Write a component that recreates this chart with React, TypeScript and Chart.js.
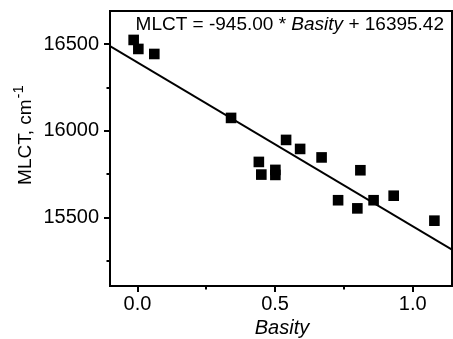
import React, { useEffect, useRef } from "react";
import { Chart, registerables } from "chart.js";

Chart.register(...registerables);

// ---- data ----
const basity = [-0.014, 0.003, 0.061, 0.34, 0.441, 0.45, 0.501, 0.501, 0.54, 0.591, 0.669, 0.729, 0.799, 0.81, 0.858, 0.931, 1.079];
const mlct = [16525, 16473, 16444, 16075, 15821, 15748, 15775, 15746, 15948, 15896, 15847, 15600, 15553, 15773, 15600, 15626, 15482];
const fitX = [-0.1, 1.143];
const fitY = [16490, 15315];

const xMajorTicks = [0, 0.5, 1.0];
const xMinorTicks = [0.25, 0.75];
const yMajorTicks = [15500, 16000, 16500];
const yMinorTicks = [15250, 15750, 16250];

const equationParts = ["MLCT = -945.00 * ", "Basity", " + 16395.42"];
const xTitle = "Basity";
const yTitle = "MLCT, cm";
const yTitleSup = "-1";

const FONT = "'Liberation Sans', Arial, sans-serif";

const framePlugin = {
  id: "framePlugin",
  afterDraw(chart: any) {
    const { ctx, chartArea: a, scales } = chart;
    const xs = scales.x;
    const ys = scales.y;
    ctx.save();
    ctx.strokeStyle = "#000";
    ctx.fillStyle = "#000";
    ctx.lineWidth = 2;
    ctx.strokeRect(a.left, a.top, a.right - a.left, a.bottom - a.top);
    ctx.beginPath();
    for (const v of xMajorTicks) {
      const p = Math.round(xs.getPixelForValue(v));
      ctx.moveTo(p, a.bottom);
      ctx.lineTo(p, a.bottom + 6);
    }
    for (const v of xMinorTicks) {
      const p = Math.round(xs.getPixelForValue(v));
      ctx.moveTo(p, a.bottom);
      ctx.lineTo(p, a.bottom + 3.5);
    }
    for (const v of yMajorTicks) {
      const p = Math.round(ys.getPixelForValue(v));
      ctx.moveTo(a.left, p);
      ctx.lineTo(a.left - 6, p);
    }
    for (const v of yMinorTicks) {
      const p = Math.round(ys.getPixelForValue(v));
      ctx.moveTo(a.left, p);
      ctx.lineTo(a.left - 3.5, p);
    }
    ctx.stroke();

    // equation annotation
    ctx.textBaseline = "alphabetic";
    ctx.textAlign = "left";
    const fonts = [`19px ${FONT}`, `italic 19px ${FONT}`, `19px ${FONT}`];
    let total = 0;
    const widths = equationParts.map((t, i) => {
      ctx.font = fonts[i];
      const w = ctx.measureText(t).width;
      total += w;
      return w;
    });
    let x = a.right - 8 - total;
    const by = a.top + 19;
    equationParts.forEach((t, i) => {
      ctx.font = fonts[i];
      ctx.fillText(t, x, by);
      x += widths[i];
    });

    // x title
    ctx.font = `italic 20px ${FONT}`;
    ctx.textAlign = "center";
    ctx.fillText(xTitle, (a.left + a.right) / 2 + 1, 334);

    // y title
    ctx.font = `19px ${FONT}`;
    const wMain = ctx.measureText(yTitle).width;
    ctx.font = `15px ${FONT}`;
    const wSup = ctx.measureText(yTitleSup).width;
    const totalY = wMain + wSup + 1;
    const centerY = 135;
    ctx.translate(31, centerY + totalY / 2);
    ctx.rotate(-Math.PI / 2);
    ctx.textAlign = "left";
    ctx.font = `19px ${FONT}`;
    ctx.fillText(yTitle, 0, 0);
    ctx.font = `15px ${FONT}`;
    ctx.fillText(yTitleSup, wMain + 1, -8);
    ctx.restore();
  },
};

export default function App() {
  const ref = useRef<HTMLCanvasElement | null>(null);
  useEffect(() => {
    if (!ref.current) return;
    const chart = new Chart(ref.current, {
      type: "scatter",
      data: {
        datasets: [
          {
            label: "fit",
            data: fitX.map((x, i) => ({ x, y: fitY[i] })),
            showLine: true,
            pointRadius: 0,
            borderColor: "#000",
            borderWidth: 2,
            fill: false,
          },
          {
            label: "MLCT",
            data: basity.map((x, i) => ({ x, y: mlct[i] })),
            pointStyle: "rect",
            pointRadius: 7.5,
            backgroundColor: "#000",
            borderColor: "#000",
            borderWidth: 0,
          },
        ],
      },
      options: {
        responsive: false,
        animation: false,
        events: [],
        layout: { autoPadding: false, padding: { top: 11, right: 1, left: 0, bottom: 0 } },
        plugins: { legend: { display: false }, tooltip: { enabled: false } },
        scales: {
          x: {
            type: "linear",
            min: -0.1,
            max: 1.143,
            grid: { display: false, drawTicks: false },
            border: { display: false },
            ticks: {
              color: "#000",
              font: { family: FONT, size: 20 },
              padding: 6,
              autoSkip: false,
              maxRotation: 0,
              callback: (v: any) => Number(v).toFixed(1),
            },
            afterBuildTicks: (s: any) => {
              s.ticks = xMajorTicks.map((v) => ({ value: v }));
            },
            afterFit: (s: any) => {
              s.height = 53;
              s.paddingLeft = 0;
              s.paddingRight = 0;
            },
          },
          y: {
            type: "linear",
            min: 15105,
            max: 16692,
            grid: { display: false, drawTicks: false },
            border: { display: false },
            ticks: {
              color: "#000",
              font: { family: FONT, size: 20 },
              padding: 11,
              autoSkip: false,
              callback: (v: any) => String(v),
            },
            afterBuildTicks: (s: any) => {
              s.ticks = yMajorTicks.map((v) => ({ value: v }));
            },
            afterFit: (s: any) => {
              s.width = 110;
              s.paddingTop = 0;
              s.paddingBottom = 0;
            },
          },
        },
      },
      plugins: [framePlugin],
    } as any);
    return () => chart.destroy();
  }, []);
  return (
    <div style={{ position: "absolute", left: 0, top: 0, width: 453, height: 339, background: "#fff" }}>
      <canvas ref={ref} width={453} height={339} style={{ display: "block" }} />
    </div>
  );
}
